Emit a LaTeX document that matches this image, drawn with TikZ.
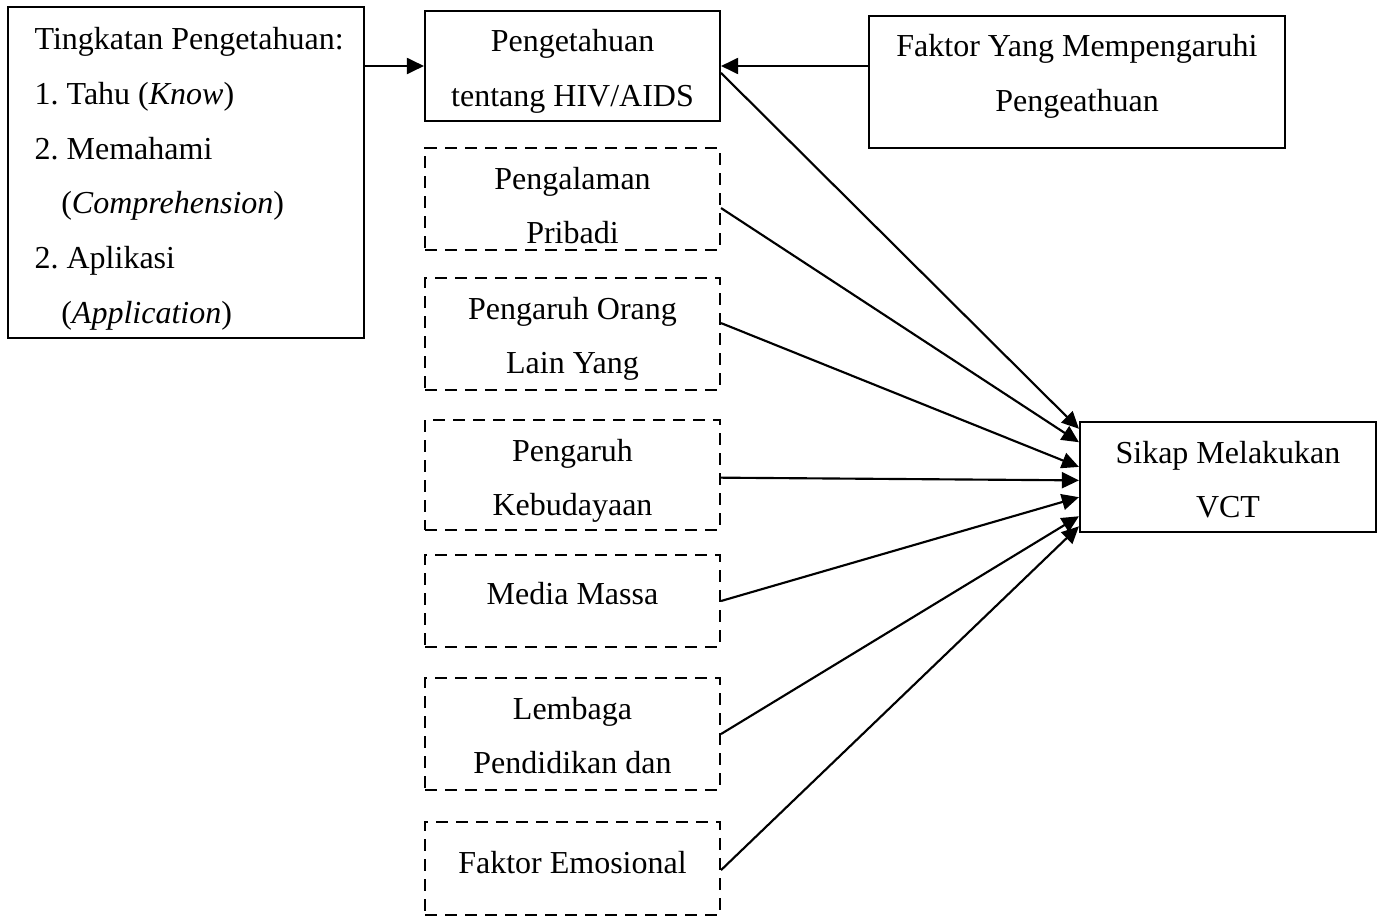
\documentclass[tikz,border=0pt]{standalone}
\usepackage{fontspec}
\setmainfont{Liberation Serif}
\usepackage{tikz}
\usetikzlibrary{arrows.meta,positioning,calc}
\frenchspacing
\tikzset{
  box/.style={draw,line width=.8pt,align=flush center,inner sep=0pt,minimum width=110.6pt,text width=110.6pt,font=\fontsize{12}{20.5}\selectfont},
  dbox/.style={box,dash pattern=on 4.5pt off 3pt},
  rise/.style={text height=0pt,text depth=#1},
  sink/.style={text height=#1,text depth=0pt},
  arr/.style={-{Triangle[length=6.4pt,width=6pt]},line width=.8pt}
}
\begin{document}
\begin{tikzpicture}[x=0.375pt,y=-0.375pt]
\useasboundingbox (0,0) rectangle (1383,917);
\node[box,align=flush left,minimum width=133.5pt,minimum height=124.1pt,text width=113.5pt,rise=91.9pt] (tingkat) at (186,172.5)
  {\mbox{Tingkatan Pengetahuan:}\\1. Tahu (\textit{Know})\\2. Memahami\\\hspace*{10pt}(\textit{Comprehension})\\2. Aplikasi\\\hspace*{10pt}(\textit{Application})};
\node[box,minimum height=41.25pt,rise=10.5pt] (tahu) at (572.5,66) {Pengetahuan\\tentang HIV/AIDS};
\node[box,minimum width=156pt,text width=156pt,minimum height=49.5pt,rise=18.75pt] (faktor) at (1077,82) {Faktor Yang Mempengaruhi\\Pengeathuan};
\node[dbox,minimum height=38.25pt,rise=7.5pt] (pribadi) at (572.5,199) {Pengalaman\\Pribadi};
\node[dbox,minimum height=42pt,rise=11.25pt] (orang) at (572.5,334) {Pengaruh Orang\\Lain Yang};
\node[dbox,minimum height=41.25pt,rise=10.5pt] (budaya) at (572.5,475) {Pengaruh\\Kebudayaan};
\node[dbox,minimum height=34.5pt,sink=2.25pt] (media) at (572.5,601) {Media Massa};
\node[dbox,minimum height=42pt,rise=11.25pt] (lembaga) at (572.5,734) {Lembaga\\Pendidikan dan};
\node[dbox,minimum height=34.9pt,sink=3.4pt] (emosi) at (572.5,868.5) {Faktor Emosional};
\node[box,minimum width=111pt,text width=111pt,minimum height=41.25pt,rise=10.5pt] (sikap) at (1228,477) {Sikap Melakukan\\VCT};
\draw[arr] (tingkat.east |- tahu.west) -- (tahu.west);
\draw[arr] (faktor.west |- tahu.east) -- (tahu.east);
\foreach \a/\s/\f in {tahu/-2.6/0.07,pribadi/-3.4/0.19,orang/4.1/0.41,budaya/-1/0.53,media/0/0.68,lembaga/0/0.85,emosi/-0.6/0.94}
  \draw[arr] ([yshift=\s pt]\a.east) -- ($(sikap.north west)!\f!(sikap.south west)$);
\end{tikzpicture}
\end{document}
